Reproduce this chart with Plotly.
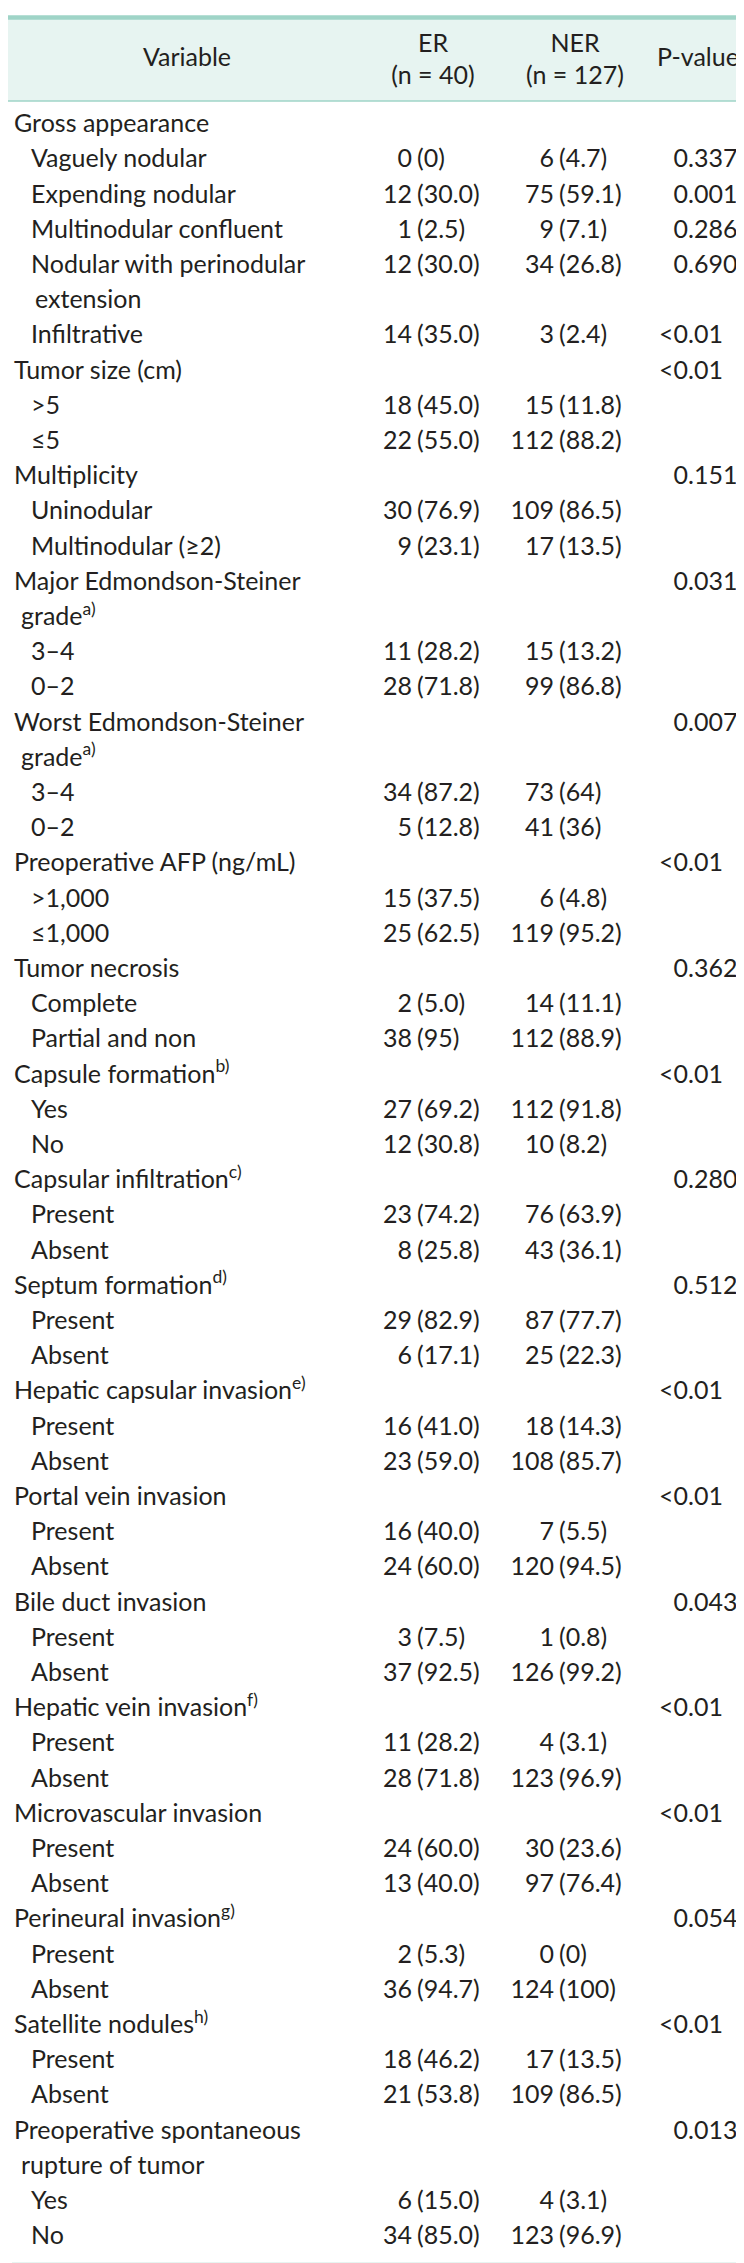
import plotly.graph_objects as go

# ---------------- data ----------------
variables = [
    "Gross appearance", "Vaguely nodular", "Expending nodular", "Multinodular confluent",
    "Nodular with perinodular", "extension", "Infiltrative",
    "Tumor size (cm)", ">5", "≤5",
    "Multiplicity", "Uninodular", "Multinodular (≥2)",
    "Major Edmondson-Steiner", "grade<sup>a)</sup>", "3–4", "0–2",
    "Worst Edmondson-Steiner", "grade<sup>a)</sup>", "3–4", "0–2",
    "Preoperative AFP (ng/mL)", ">1,000", "≤1,000",
    "Tumor necrosis", "Complete", "Partial and non",
    "Capsule formation<sup>b)</sup>", "Yes", "No",
    "Capsular infiltration<sup>c)</sup>", "Present", "Absent",
    "Septum formation<sup>d)</sup>", "Present", "Absent",
    "Hepatic capsular invasion<sup>e)</sup>", "Present", "Absent",
    "Portal vein invasion", "Present", "Absent",
    "Bile duct invasion", "Present", "Absent",
    "Hepatic vein invasion<sup>f)</sup>", "Present", "Absent",
    "Microvascular invasion", "Present", "Absent",
    "Perineural invasion<sup>g)</sup>", "Present", "Absent",
    "Satellite nodules<sup>h)</sup>", "Present", "Absent",
    "Preoperative spontaneous", "rupture of tumor", "Yes", "No",
]
# 0 = variable, 1 = category, 2 = wrapped variable line, 3 = wrapped category line
levels = [
    0, 1, 1, 1, 1, 3, 1,
    0, 1, 1,
    0, 1, 1,
    0, 2, 1, 1,
    0, 2, 1, 1,
    0, 1, 1,
    0, 1, 1,
    0, 1, 1,
    0, 1, 1,
    0, 1, 1,
    0, 1, 1,
    0, 1, 1,
    0, 1, 1,
    0, 1, 1,
    0, 1, 1,
    0, 1, 1,
    0, 1, 1,
    0, 2, 1, 1,
]
er = [
    "", "0 (0)", "12 (30.0)", "1 (2.5)", "12 (30.0)", "", "14 (35.0)",
    "", "18 (45.0)", "22 (55.0)",
    "", "30 (76.9)", "9 (23.1)",
    "", "", "11 (28.2)", "28 (71.8)",
    "", "", "34 (87.2)", "5 (12.8)",
    "", "15 (37.5)", "25 (62.5)",
    "", "2 (5.0)", "38 (95)",
    "", "27 (69.2)", "12 (30.8)",
    "", "23 (74.2)", "8 (25.8)",
    "", "29 (82.9)", "6 (17.1)",
    "", "16 (41.0)", "23 (59.0)",
    "", "16 (40.0)", "24 (60.0)",
    "", "3 (7.5)", "37 (92.5)",
    "", "11 (28.2)", "28 (71.8)",
    "", "24 (60.0)", "13 (40.0)",
    "", "2 (5.3)", "36 (94.7)",
    "", "18 (46.2)", "21 (53.8)",
    "", "", "6 (15.0)", "34 (85.0)",
]
ner = [
    "", "6 (4.7)", "75 (59.1)", "9 (7.1)", "34 (26.8)", "", "3 (2.4)",
    "", "15 (11.8)", "112 (88.2)",
    "", "109 (86.5)", "17 (13.5)",
    "", "", "15 (13.2)", "99 (86.8)",
    "", "", "73 (64)", "41 (36)",
    "", "6 (4.8)", "119 (95.2)",
    "", "14 (11.1)", "112 (88.9)",
    "", "112 (91.8)", "10 (8.2)",
    "", "76 (63.9)", "43 (36.1)",
    "", "87 (77.7)", "25 (22.3)",
    "", "18 (14.3)", "108 (85.7)",
    "", "7 (5.5)", "120 (94.5)",
    "", "1 (0.8)", "126 (99.2)",
    "", "4 (3.1)", "123 (96.9)",
    "", "30 (23.6)", "97 (76.4)",
    "", "0 (0)", "124 (100)",
    "", "17 (13.5)", "109 (86.5)",
    "", "", "4 (3.1)", "123 (96.9)",
]
pvals = [
    "", "0.337", "0.001", "0.286", "0.690", "", "<0.01",
    "<0.01", "", "",
    "0.151", "", "",
    "0.031", "", "", "",
    "0.007", "", "", "",
    "<0.01", "", "",
    "0.362", "", "",
    "<0.01", "", "",
    "0.280", "", "",
    "0.512", "", "",
    "<0.01", "", "",
    "<0.01", "", "",
    "0.043", "", "",
    "<0.01", "", "",
    "<0.01", "", "",
    "0.054", "", "",
    "<0.01", "", "",
    "0.013", "", "", "",
]
header_variable = "Variable"
header_groups = ["ER", "NER"]
header_ns = ["(n = 40)", "(n = 127)"]
header_p = "P-value"

# ---------------- layout constants ----------------
W, H = 744, 2263
ROW0, PITCH = 118.0, 35.2          # pixel anchor of first row, row pitch
FONT = "Lato"
FSIZE = 25
TXT = "#231f20"
TEAL = "#9fd4c7"
HEAD_BG = "#e7f4f1"

def ry(px):
    """pixel position -> row units on the y axis"""
    return (px - ROW0) / PITCH

indent = {0: 6, 1: 23, 2: 13, 3: 27}
ER_SPLIT, NER_SPLIT, P_SPLIT = 404, 546, 680
GAP = 5

rows = list(range(len(variables)))
fig = go.Figure()

def text_trace(xs, ys, texts, pos):
    fig.add_trace(go.Scatter(
        x=xs, y=ys, text=texts, mode="text", textposition=pos,
        textfont=dict(family=FONT, size=FSIZE, color=TXT),
        hoverinfo="skip", showlegend=False, cliponaxis=False))

# variable column
for lv, xpos in indent.items():
    idx = [i for i in rows if levels[i] == lv]
    text_trace([xpos] * len(idx), idx, [variables[i] for i in idx], "middle right")

# count columns, aligned on the opening parenthesis
for col, split in ((er, ER_SPLIT), (ner, NER_SPLIT)):
    idx = [i for i in rows if col[i]]
    counts = [col[i].split(" ", 1)[0] for i in idx]
    pcts = [col[i].split(" ", 1)[1] for i in idx]
    text_trace([split] * len(idx), idx, counts, "middle left")
    text_trace([split + GAP] * len(idx), idx, pcts, "middle right")

# p-values, aligned on the decimal point
idx = [i for i in rows if pvals[i]]
ints = [pvals[i].split(".", 1)[0] for i in idx]
fracs = ["." + pvals[i].split(".", 1)[1] for i in idx]
text_trace([P_SPLIT] * len(idx), idx, ints, "middle left")
text_trace([P_SPLIT] * len(idx), idx, fracs, "middle right")

# header
text_trace([179], [ry(52)], [header_variable], "middle center")
text_trace([425, 567], [ry(38)] * 2, header_groups, "middle center")
text_trace([425, 567], [ry(70)] * 2, header_ns, "middle center")
text_trace([690], [ry(52)], [header_p], "middle center")

shapes = [
    dict(type="rect", xref="x", yref="y", x0=0, x1=W, y0=ry(11), y1=ry(93),
         fillcolor=HEAD_BG, line_width=0, layer="below"),
    dict(type="line", xref="x", yref="y", x0=0, x1=W, y0=ry(9.5), y1=ry(9.5),
         line=dict(color=TEAL, width=4.5)),
    dict(type="line", xref="x", yref="y", x0=0, x1=W, y0=ry(93), y1=ry(93),
         line=dict(color=TEAL, width=1.5)),
    dict(type="line", xref="x", yref="y", x0=4, x1=W, y0=ry(2257), y1=ry(2257),
         line=dict(color=TEAL, width=4.5)),
]

fig.update_layout(
    width=W, height=H, margin=dict(l=0, r=0, t=0, b=0),
    paper_bgcolor="white", plot_bgcolor="white",
    xaxis=dict(range=[0, W], visible=False, fixedrange=True),
    yaxis=dict(range=[ry(H), ry(0)], visible=False, fixedrange=True),
    shapes=shapes, showlegend=False,
)

fig.write_html("out.html")
